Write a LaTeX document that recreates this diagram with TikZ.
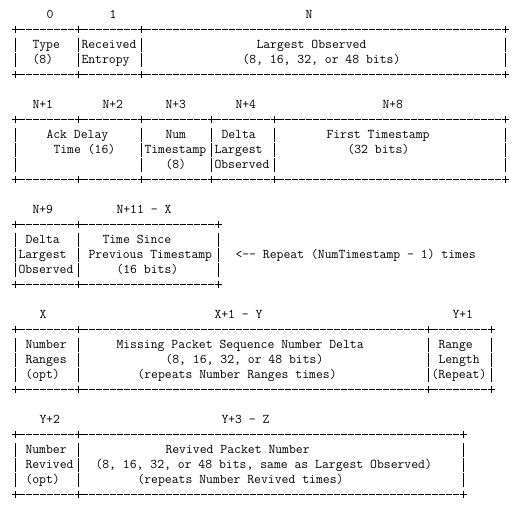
\documentclass[tikz,border=0pt]{standalone}
\usepackage{fontspec}
\frenchspacing
\tikzset{
  txt/.style={anchor=base west, inner sep=0pt, outer sep=0pt,
    font=\ttfamily\fontsize{13.333pt}{15pt}\selectfont},
  hrule/.style={line width=1pt, dash pattern=on 6pt off 1pt, dash phase=3pt},
  plustick/.style={line width=1pt},
  vbar/.style={line width=1pt}
}
% text at column #2 of line #3
\newcommand{\txtat}[4]{\node[txt] (#1) at ({11.5+7*(#2)},{18+15*(#3)}) {#4};}
% border on line #1 up to column #2, crosses at columns #3
\newcommand{\brd}[3]{%
  \draw[hrule] (15,{14+15*(#1)}) -- ({15+7*(#2)},{14+15*(#1)});
  \foreach \cc in {#3} {
    \draw[plustick] ({15+7*\cc},{14+15*(#1)-3.5}) -- ++(0,7);
    \draw[plustick] ({15+7*\cc-3.5},{14+15*(#1)}) -- ++(7,0);
  }}
% vertical bars on line #1 at columns #2
\newcommand{\brs}[2]{%
  \foreach \cc in {#2} {\draw[vbar] ({15+7*\cc},{14+15*(#1)-6.5}) -- ++(0,14);}}
\begin{document}
\begin{tikzpicture}[x=1pt,y=-1pt]
\useasboundingbox (0,0) rectangle (518,512);
\fill[white] (0,0) rectangle (518,512);
% ---------- block 1
\txtat{h0}{5}{0}{0}
\txtat{h1}{14}{0}{1}
\txtat{hN}{42}{0}{N}
\brd{1}{70}{0,9,18,70}
\brs{2}{0,9,18,70}
\brs{3}{0,9,18,70}
\txtat{type}{3}{2}{Type}
\txtat{recv}{10}{2}{Received}
\txtat{lobs}{35}{2}{Largest Observed}
\txtat{type8}{3}{3}{(8)}
\txtat{entr}{10}{3}{Entropy}
\txtat{lobsb}{33}{3}{(8, 16, 32, or 48 bits)}
\brd{4}{70}{0,9,18,70}
% ---------- block 2
\txtat{hn1}{3}{6}{N+1}
\txtat{hn2}{13}{6}{N+2}
\txtat{hn3}{22}{6}{N+3}
\txtat{hn4}{32}{6}{N+4}
\txtat{hn8}{53}{6}{N+8}
\brd{7}{70}{0,9,18,28,37,70}
\brs{8}{0,18,28,37,70}
\brs{9}{0,18,28,37,70}
\brs{10}{0,18,28,37,70}
\txtat{ack}{5}{8}{Ack Delay}
\txtat{num}{22}{8}{Num}
\txtat{dl}{30}{8}{Delta}
\txtat{fts}{45}{8}{First Timestamp}
\txtat{ackt}{6}{9}{Time (16)}
\txtat{numt}{19}{9}{Timestamp}
\txtat{dll}{29}{9}{Largest}
\txtat{ftsb}{48}{9}{(32 bits)}
\txtat{num8}{22}{10}{(8)}
\txtat{dlo}{29}{10}{Observed}
\brd{11}{70}{0,9,18,28,37,70}
% ---------- block 3
\txtat{hn9}{3}{13}{N+9}
\txtat{hn11}{15}{13}{N+11 - X}
\brd{14}{29}{0,9,29}
\brs{15}{0,9,29}
\brs{16}{0,9,29}
\brs{17}{0,9,29}
\txtat{rdl}{2}{15}{Delta}
\txtat{tsince}{13}{15}{Time Since}
\txtat{rdll}{1}{16}{Largest}
\txtat{tprev}{11}{16}{Previous Timestamp}
\txtat{rep}{32}{16}{<{-}{-} Repeat (NumTimestamp - 1) times}
\txtat{rdlo}{1}{17}{Observed}
\txtat{tbits}{15}{17}{(16 bits)}
\brd{18}{29}{0,9,29}
% ---------- block 4
\txtat{hx}{4}{20}{X}
\txtat{hx1}{29}{20}{X+1 - Y}
\txtat{hy1}{63}{20}{Y+1}
\brd{21}{68}{0,9,59,68}
\brs{22}{0,9,59,68}
\brs{23}{0,9,59,68}
\brs{24}{0,9,59,68}
\txtat{nr}{2}{22}{Number}
\txtat{miss}{15}{22}{Missing Packet Sequence Number Delta}
\txtat{rng}{61}{22}{Range}
\txtat{nrr}{2}{23}{Ranges}
\txtat{missb}{22}{23}{(8, 16, 32, or 48 bits)}
\txtat{rngl}{61}{23}{Length}
\txtat{nro}{2}{24}{(opt)}
\txtat{missr}{18}{24}{(repeats Number Ranges times)}
\txtat{rngr}{60}{24}{(Repeat)}
\brd{25}{68}{0,9,59,68}
% ---------- block 5
\txtat{hy2}{4}{27}{Y+2}
\txtat{hy3}{30}{27}{Y+3 - Z}
\brd{28}{64}{0,9,64}
\brs{29}{0,9,64}
\brs{30}{0,9,64}
\brs{31}{0,9,64}
\txtat{nv}{2}{29}{Number}
\txtat{rev}{22}{29}{Revived Packet Number}
\txtat{nvr}{2}{30}{Revived}
\txtat{revb}{12}{30}{(8, 16, 32, or 48 bits, same as Largest Observed)}
\txtat{nvo}{2}{31}{(opt)}
\txtat{revr}{18}{31}{(repeats Number Revived times)}
\brd{32}{64}{0,9,64}
\end{tikzpicture}
\end{document}
